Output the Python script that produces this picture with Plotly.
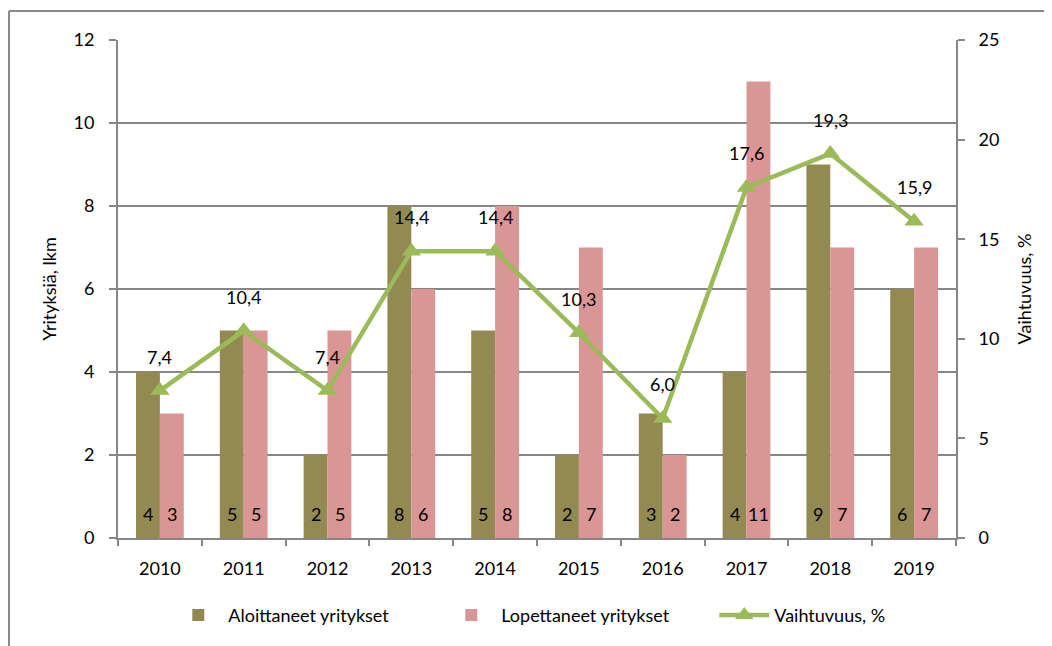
import plotly.graph_objects as go

years = ["2010", "2011", "2012", "2013", "2014", "2015", "2016", "2017", "2018", "2019"]
aloittaneet = [4, 5, 2, 8, 5, 2, 3, 4, 9, 6]
lopettaneet = [3, 5, 5, 6, 8, 7, 2, 11, 7, 7]
vaihtuvuus = [7.4, 10.4, 7.4, 14.4, 14.4, 10.3, 6.0, 17.6, 19.3, 15.9]

OLIVE = "#938953"
PINK = "#D99694"
GREEN = "#9BBB59"
GRID = "#868686"
FONT = "Lato, Open Sans, sans-serif"
FS = 18

# the page body adds an 8px margin, so the figure is drawn from (8, 8)
W, H = 1044, 638
ML, MR, MT, MB = 110, 96, 32, 108
PW, PH = W - ML - MR, H - MT - MB

def fmt(v):
    return f"{v:.1f}".replace(".", ",")

fig = go.Figure()
fig.add_trace(go.Bar(
    x=years, y=aloittaneet, name="Aloittaneet yritykset",
    marker=dict(color=OLIVE, line=dict(width=0)),
))
fig.add_trace(go.Bar(
    x=years, y=lopettaneet, name="Lopettaneet yritykset",
    marker=dict(color=PINK, line=dict(width=0)),
))
fig.add_trace(go.Scatter(
    x=years, y=vaihtuvuus, name="Vaihtuvuus, %", yaxis="y2",
    mode="lines+markers",
    line=dict(color=GREEN, width=4.5),
    marker=dict(symbol="triangle-up", size=17, color=GREEN),
))

# bar value labels near the base of each bar
for i, (a, l) in enumerate(zip(aloittaneet, lopettaneet)):
    fig.add_annotation(x=i, y=0, xref="x", yref="y", text=str(a), showarrow=False,
                       xshift=-12, yshift=24, font=dict(size=FS, color="black", family=FONT))
    fig.add_annotation(x=i, y=0, xref="x", yref="y", text=str(l), showarrow=False,
                       xshift=12, yshift=24, font=dict(size=FS, color="black", family=FONT))

# line value labels above the markers
for i, v in enumerate(vaihtuvuus):
    fig.add_annotation(x=i, y=v, xref="x", yref="y2", text=fmt(v), showarrow=False,
                       yshift=34, font=dict(size=FS, color="black", family=FONT))

# outer chart border (left and top edges)
bx = (1 - ML) / PW
by = 1 + (MT - 3) / PH
fig.add_shape(type="line", xref="paper", yref="paper", x0=bx, x1=bx, y0=-1, y1=by,
              line=dict(color="#898989", width=2))
fig.add_shape(type="line", xref="paper", yref="paper", x0=bx, x1=2, y0=by, y1=by,
              line=dict(color="#898989", width=2))

fig.update_layout(
    width=W, height=H,
    margin=dict(l=ML, r=MR, t=MT, b=MB, autoexpand=False),
    paper_bgcolor="white", plot_bgcolor="white",
    font=dict(family=FONT, size=FS, color="black"),
    barmode="group", bargap=0.43, bargroupgap=0,
    showlegend=True,
    legend=dict(orientation="h", x=0.06, xanchor="left", y=-0.155, yanchor="middle",
                font=dict(size=FS), itemwidth=50, entrywidth=208,
                traceorder="normal"),
    xaxis=dict(type="category", range=[-0.5, 9.5], autorange=False,
               showline=True, linecolor=GRID, linewidth=2,
               ticks="outside", tickson="boundaries", ticklen=6, tickcolor=GRID,
               tickwidth=2, showgrid=False, ticklabelstandoff=13,
               tickfont=dict(size=FS)),
    yaxis=dict(range=[0, 12], dtick=2, showline=True, linecolor=GRID, linewidth=2,
               ticks="outside", ticklen=7, tickcolor=GRID, tickwidth=2,
               showgrid=True, gridcolor=GRID, gridwidth=1.5, zeroline=False,
               ticklabelstandoff=11, tickfont=dict(size=FS),
               title=dict(text="Yrityksiä, lkm", font=dict(size=FS), standoff=12)),
    yaxis2=dict(range=[0, 25], dtick=5, overlaying="y", side="right",
                showline=True, linecolor=GRID, linewidth=2,
                ticks="outside", ticklen=7, tickcolor=GRID, tickwidth=2,
                showgrid=False, zeroline=False, ticklabelstandoff=10,
                tickfont=dict(size=FS),
                title=dict(text="Vaihtuvuus, %", font=dict(size=FS), standoff=20)),
)

fig.write_html("out.html")
